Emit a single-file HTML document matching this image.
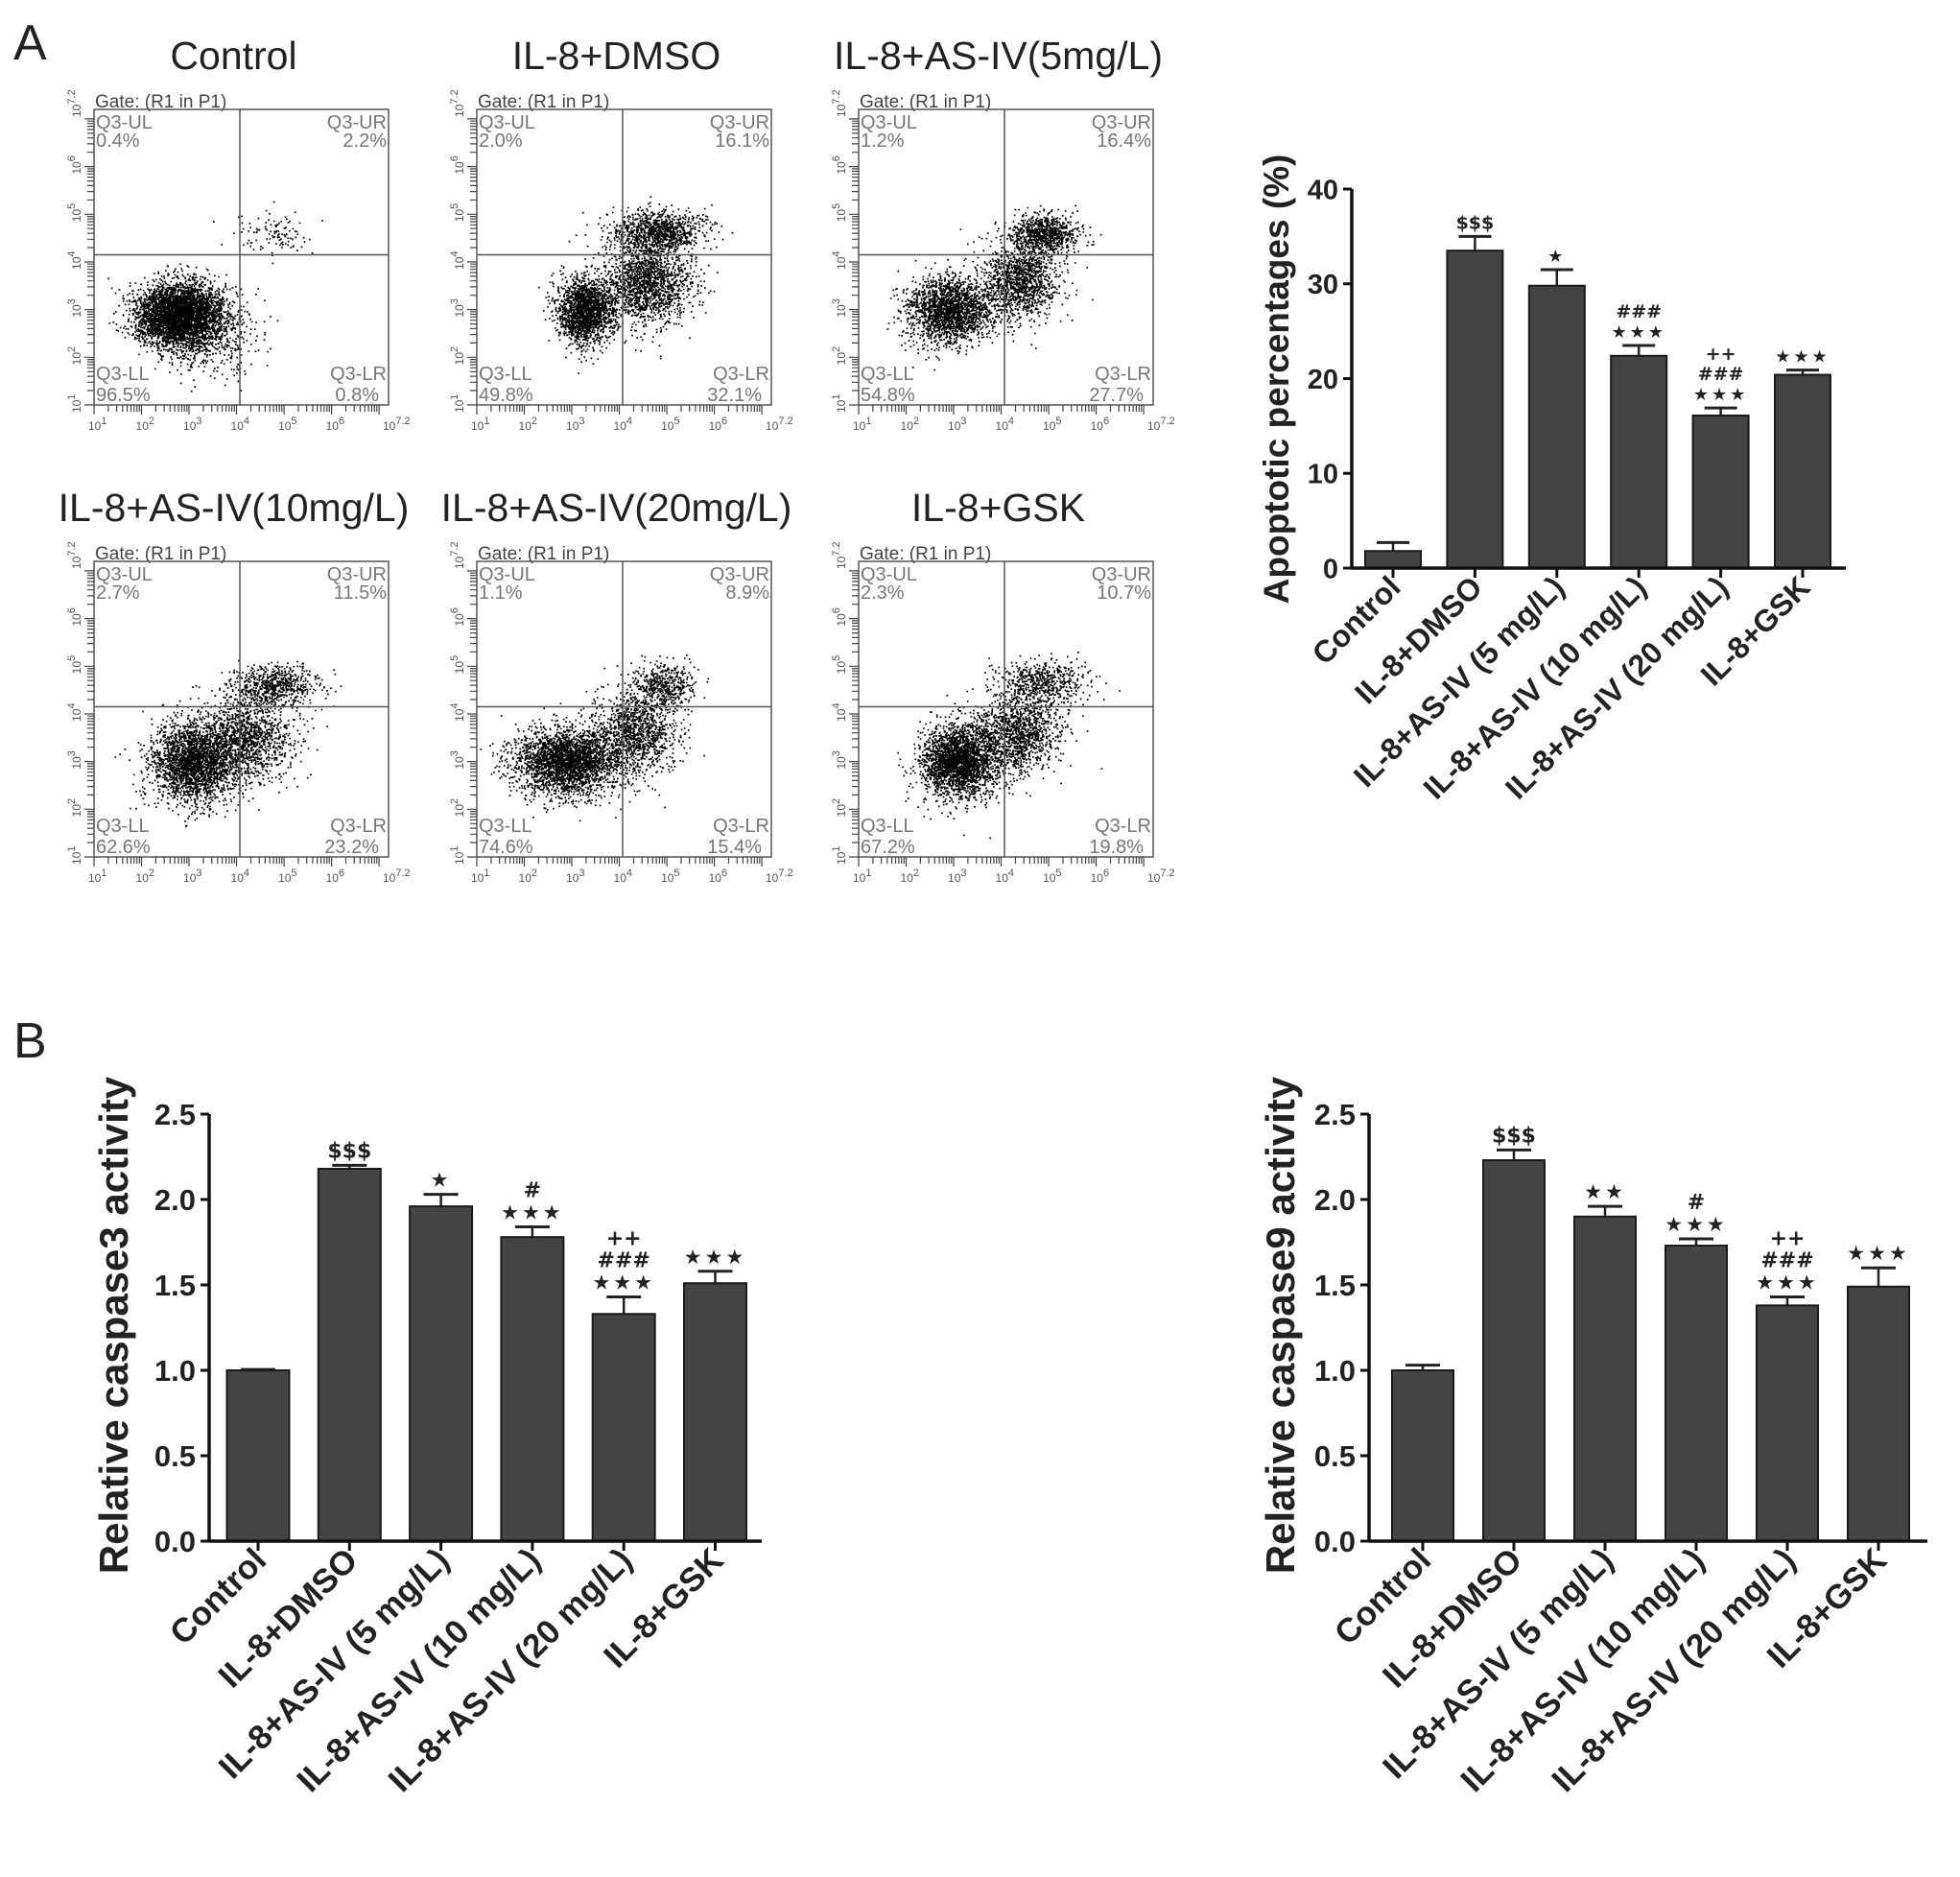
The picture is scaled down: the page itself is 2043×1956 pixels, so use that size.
<!DOCTYPE html>
<html><head><meta charset="utf-8">
<style>
html,body{margin:0;padding:0;background:#fff;}
svg{display:block;font-family:"Liberation Sans",Arial,sans-serif;}
</style></head>
<body>
<svg id="fig" width="2043" height="1956" viewBox="0 0 2043 1956" xmlns="http://www.w3.org/2000/svg">
<text x="14" y="62" font-size="52" fill="#222">A</text>
<text x="14" y="1102" font-size="52" fill="#222">B</text>
</svg>
<script>
// ---------- Flow cytometry data ----------
const flowTitles = ["Control","IL-8+DMSO","IL-8+AS-IV(5mg/L)","IL-8+AS-IV(10mg/L)","IL-8+AS-IV(20mg/L)","IL-8+GSK"];
const flowUL = ["0.4%","2.0%","1.2%","2.7%","1.1%","2.3%"];
const flowUR = ["2.2%","16.1%","16.4%","11.5%","8.9%","10.7%"];
const flowLL = ["96.5%","49.8%","54.8%","62.6%","74.6%","67.2%"];
const flowLR = ["0.8%","32.1%","27.7%","23.2%","15.4%","19.8%"];
// clusters per plot: [centerX(log), centerY(log), sdX, sdY, count]
const flowClusters = [
  [[2.75,2.9,0.45,0.33,3800],[3.3,2.6,0.5,0.45,700],[4.8,4.6,0.4,0.25,110]],
  [[3.3,3.0,0.3,0.35,1900],[4.6,3.6,0.45,0.45,1600],[4.8,4.65,0.5,0.22,1000]],
  [[2.9,3.0,0.45,0.35,2000],[4.4,3.6,0.4,0.4,1300],[4.9,4.6,0.35,0.2,850]],
  [[3.1,3.0,0.45,0.42,2500],[4.2,3.5,0.5,0.45,1300],[4.8,4.6,0.45,0.22,650]],
  [[2.9,3.0,0.55,0.35,2800],[4.3,3.6,0.45,0.4,1150],[4.9,4.6,0.35,0.25,500]],
  [[3.1,3.0,0.4,0.38,2500],[4.3,3.6,0.45,0.4,1300],[4.8,4.65,0.5,0.25,580]]
];
const flowGateX = 4.07, flowGateY = 4.15;

// ---------- Bar chart data ----------
const categories = ["Control","IL-8+DMSO","IL-8+AS-IV (5 mg/L)","IL-8+AS-IV (10 mg/L)","IL-8+AS-IV (20 mg/L)","IL-8+GSK"];
const apopValues = [1.8,33.5,29.8,22.4,16.1,20.4];
const apopErrors = [0.9,1.5,1.7,1.1,0.8,0.5];
const apopTicks = [0,10,20,30,40];
const apopAnn = [[],["$$$"],["*"],["###","***"],["++","###","***"],["***"]];
const cas3Values = [1.0,2.18,1.96,1.78,1.33,1.51];
const cas3Errors = [0.005,0.02,0.07,0.06,0.1,0.07];
const cas3Ticks = [0.0,0.5,1.0,1.5,2.0,2.5];
const cas3Ann = [[],["$$$"],["*"],["#","***"],["++","###","***"],["***"]];
const cas9Values = [1.0,2.23,1.9,1.73,1.38,1.49];
const cas9Errors = [0.03,0.06,0.06,0.04,0.05,0.11];
const cas9Ticks = [0.0,0.5,1.0,1.5,2.0,2.5];
const cas9Ann = [[],["$$$"],["**"],["#","***"],["++","###","***"],["***"]];

const NS="http://www.w3.org/2000/svg";
const svg=document.getElementById('fig');
function mk(tag,attrs,parent){const e=document.createElementNS(NS,tag);for(const k in attrs)e.setAttribute(k,attrs[k]);(parent||svg).appendChild(e);return e;}

// seeded PRNG for scatter texture
let seed=12345;
function rnd(){seed|=0;seed=seed+0x6D2B79F5|0;let t=Math.imul(seed^seed>>>15,1|seed);t=t+Math.imul(t^t>>>7,61|t)^t;return((t^t>>>14)>>>0)/4294967296;}
function gauss(){let u=rnd()||1e-9,v=rnd();return Math.sqrt(-2*Math.log(u))*Math.cos(2*Math.PI*v);}

const boxXs=[98,497,895];
const boxYs=[114,585];
const boxW=307, boxH=308;
for(let i=0;i<6;i++){
  const bx=boxXs[i%3], by=boxYs[Math.floor(i/3)];
  const g=mk('g',{});
  
  
  const sx=v=>bx+(v-1)/6.2*boxW;
  const sy=v=>by+boxH-(v-1)/6.2*boxH;
  const t=mk('text',{x:bx+boxW/2-8,y:by-42,'font-size':41,'text-anchor':'middle',fill:'#222'},g);
  t.textContent=flowTitles[i];
  
  
  const gt=mk('text',{x:bx+1,y:by-2,'font-size':19,fill:'#444'},g);
  gt.textContent='Gate: (R1 in P1)';
  
  
  // dots
  let d='';
  flowClusters[i].forEach(c=>{
    for(let k=0;k<c[4];k++){
      const x=c[0]+gauss()*c[2], y=c[1]+gauss()*c[3];
      if(x<1||x>7.2||y<1||y>7.2)continue;
      d+='M'+sx(x).toFixed(1)+' '+sy(y).toFixed(1)+'h1.7v1.7h-1.7z';
    }
  });
  const dots=mk('path',{d:d,fill:'#000'},g);
  
  
  mk('rect',{x:bx,y:by,width:boxW,height:boxH,fill:'none',stroke:'#555','stroke-width':1.5},g);
  mk('line',{x1:sx(flowGateX),x2:sx(flowGateX),y1:by,y2:by+boxH,stroke:'#555','stroke-width':1.5},g);
  mk('line',{x1:bx,x2:bx+boxW,y1:sy(flowGateY),y2:sy(flowGateY),stroke:'#555','stroke-width':1.5},g);
  // quadrant labels
  const ql=[[bx+2,by+20,'start','Q3-UL'],[bx+2,by+39,'start',flowUL[i]],[bx+boxW-2,by+20,'end','Q3-UR'],[bx+boxW-2,by+39,'end',flowUR[i]],
            [bx+2,by+boxH-26,'start','Q3-LL'],[bx+2,by+boxH-4,'start',flowLL[i]],[bx+boxW-2,by+boxH-26,'end','Q3-LR'],[bx+boxW-10,by+boxH-4,'end',flowLR[i]]];
  ql.forEach(q=>{const e=mk('text',{x:q[0],y:q[1],'font-size':20,'text-anchor':q[2],fill:'#777'},g);e.textContent=q[3];
    
    });
  // log ticks
  let td='';
  for(let dec=1;dec<=7;dec++){
    for(let m=1;m<=9;m++){
      const v=dec+Math.log10(m); if(v>7.2)break;
      const L=m===1?10:7;
      td+='M'+sx(v).toFixed(1)+' '+(by+boxH)+'v'+L;
      td+='M'+bx+' '+sy(v).toFixed(1)+'h-'+L;
    }
  }
  mk('path',{d:td,stroke:'#444','stroke-width':1.2,fill:'none'},g);
  const decs=['1','2','3','4','5','6','7.2'];
  decs.forEach((s,j)=>{
    const v=j<6?j+1:7.2;
    const tx=mk('text',{x:sx(v)-6,y:by+boxH+26,'font-size':12,fill:'#555'},g);
    tx.innerHTML='10<tspan dy="-6" font-size="11">'+s+'</tspan>';
    
    
    const ty=mk('text',{x:0,y:0,'font-size':12,fill:'#555',transform:'translate('+(bx-14)+','+(sy(v)+8)+') rotate(-90)'},g);
    ty.innerHTML='10<tspan dy="-6" font-size="11">'+s+'</tspan>';
    
    
  });
}

// ---------- bar charts ----------
function barChart(o){
  const g=mk('g',{});
  
  
  const ymax=o.ticks[o.ticks.length-1];
  const Y=v=>o.y0-(v/ymax)*(o.y0-o.yTop);
  const X=i=>o.x0+o.first+i*o.step;
  o.values.forEach((v,i)=>{
    const top=Y(v+o.errors[i]);
    mk('line',{x1:X(i),x2:X(i),y1:Y(v),y2:top,stroke:'#222','stroke-width':2.5},g);
    const cap=mk('line',{x1:X(i)-o.cap,x2:X(i)+o.cap,y1:top,y2:top,stroke:'#222','stroke-width':3},g);
    
    
    const r=mk('rect',{x:X(i)-o.bw/2,y:Y(v),width:o.bw,height:o.y0-Y(v),fill:'#444',stroke:'#1a1a1a','stroke-width':2},g);
    
    
    const ann=o.ann[i];
    ann.forEach((s,k)=>{
      const yy=top-8-(ann.length-1-k)*o.annStep;
      const isStar=s.indexOf('*')>=0;
      const txt=isStar?s.replace(/\*/g,'★'):s;
      const a=mk('text',{x:X(i),y:yy,'font-size':isStar?o.annFs-1:o.annFs,'text-anchor':'middle',fill:'#222','font-weight':'bold','letter-spacing':isStar?3:0,'font-family':'"DejaVu Sans","Liberation Sans",sans-serif'},g);
      a.textContent=txt;
      
      
    });
  });
  mk('line',{x1:o.x0,x2:o.x0,y1:o.yTop,y2:o.y0,stroke:'#111','stroke-width':3.5},g);
  mk('line',{x1:o.x0,x2:o.xEnd,y1:o.y0,y2:o.y0,stroke:'#111','stroke-width':3.5},g);
  o.ticks.forEach(t=>{
    mk('line',{x1:o.x0-9,x2:o.x0,y1:Y(t),y2:Y(t),stroke:'#111','stroke-width':3},g);
    const e=mk('text',{x:o.x0-14,y:Y(t)+o.tickFs*0.36,'font-size':o.tickFs,'font-weight':'bold','text-anchor':'end',fill:'#222'},g);
    e.textContent=o.fmt(t);
    
    
  });
  o.values.forEach((v,i)=>{
    mk('line',{x1:X(i),x2:X(i),y1:o.y0,y2:o.y0+10,stroke:'#111','stroke-width':3},g);
    const e=mk('text',{x:0,y:0,'font-size':o.catFs,'font-weight':'bold','text-anchor':'end',fill:'#222',transform:'translate('+(X(i)+o.catFs*0.3)+','+(o.y0+22)+') rotate(-45)'},g);
    e.textContent=categories[i];
    
    
  });
  const tt=mk('text',{x:0,y:0,'font-size':o.titleFs,'font-weight':'bold','text-anchor':'middle',fill:'#222',transform:'translate('+o.titleX+','+o.titleY+') rotate(-90)'},g);
  tt.textContent=o.title;
  
  
}
barChart({name:'apoptosis-chart',values:apopValues,errors:apopErrors,ticks:apopTicks,ann:apopAnn,
  x0:1409,xEnd:1924,y0:592,yTop:197,first:43,step:85.4,bw:58,cap:17,tickFs:29,catFs:32,annFs:19,annStep:21,
  title:'Apoptotic percentages (%)',titleX:1343,titleY:395,titleFs:37,fmt:t=>String(t)});
barChart({name:'caspase3-chart',values:cas3Values,errors:cas3Errors,ticks:cas3Ticks,ann:cas3Ann,
  x0:218,xEnd:794,y0:1606,yTop:1161,first:51,step:95.3,bw:65,cap:18,tickFs:31,catFs:35,annFs:22,annStep:23,
  title:'Relative caspase3 activity',titleX:133,titleY:1381,titleFs:42,fmt:t=>t.toFixed(1)});
barChart({name:'caspase9-chart',values:cas9Values,errors:cas9Errors,ticks:cas9Ticks,ann:cas9Ann,
  x0:1427,xEnd:2009,y0:1606,yTop:1161,first:56,step:95,bw:64,cap:18,tickFs:31,catFs:35,annFs:22,annStep:23,
  title:'Relative caspase9 activity',titleX:1349,titleY:1381,titleFs:42,fmt:t=>t.toFixed(1)});
</script>
</body></html>
